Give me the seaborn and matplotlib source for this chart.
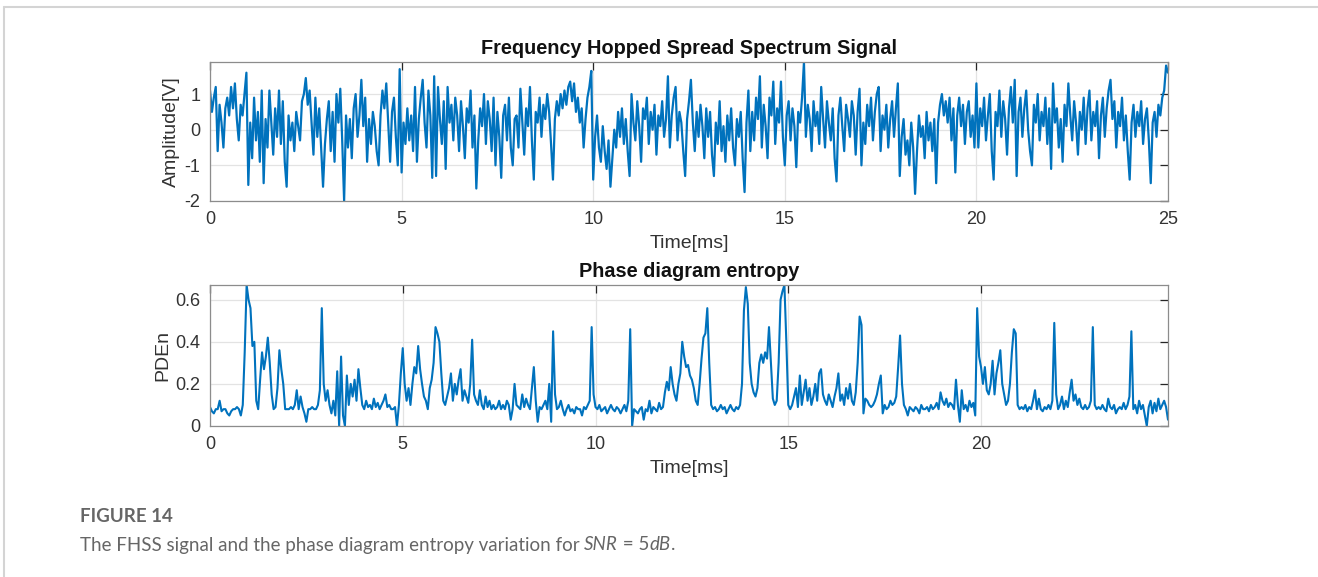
import numpy as np
import pandas as pd
import seaborn as sns
import matplotlib.pyplot as plt
from matplotlib.lines import Line2D

# sample step in ms (both traces)
dt = 0.05

# FHSS signal amplitude [V], one row per millisecond (20 samples each)
amp_rows = [
    [1.1, 0.5, 0.9, 1.2, -0.6, 0.7, 0.2, -0.5, 0.6, 0.9, 0.4, 1.2, 0.6, 1.3, 0.3, -0.3, 0.7, 0.4, 1.0, 1.6],
    [-1.55, 0.2, -0.8, 0.9, -0.3, 0.5, -0.9, 1.1, -1.5, 0.3, -0.5, 1.1, 0.2, -0.7, 0.6, -0.2, 1.1, -0.4, 0.8, -0.9],
    [-1.6, 0.4, -0.3, 0.2, -0.6, 0.5, 0.1, -0.3, 0.8, 1.0, 1.45, 0.7, 1.1, 0.2, -0.7, 0.9, -0.2, 0.6, -0.5, -1.6],
    [-0.4, 0.3, 0.8, -0.6, 0.5, -0.9, 1.0, 0.2, 1.15, -0.3, -2.0, 0.4, -0.5, 0.3, -0.8, 0.6, 1.0, -0.2, 0.4, 1.4],
    [0.1, 0.9, -0.9, 0.3, -0.4, 0.5, 0.1, -0.6, -1.0, 0.4, 1.1, 0.6, 1.3, 0.2, -0.9, 0.5, 0.9, -0.2, -1.0, 1.7],
    [-1.2, 0.2, -0.4, 0.6, -0.3, 0.4, -0.6, 1.2, -0.9, 0.3, 0.9, 1.4, 0.2, -0.5, 1.1, 0.4, -1.35, 1.5, -1.3, 1.2],
    [0.3, -0.4, 0.8, -1.1, 1.2, 0.2, 0.7, -0.3, 0.9, 0.4, -0.6, 0.8, 0.1, -0.8, 0.6, 0.2, 1.1, -0.5, 0.4, -1.65],
    [-0.3, 0.6, 0.1, 1.0, -0.4, 0.8, 0.3, -0.6, 0.9, -1.0, 0.5, -0.2, -1.35, 0.4, 0.7, -0.3, 0.9, -0.5, -1.0, 0.3],
    [0.4, -0.5, 1.15, 0.2, -0.7, 0.6, 0.1, 1.2, -0.3, -1.4, 0.5, 0.2, 0.9, -0.2, 0.7, 0.3, 1.0, 0.5, -0.4, -1.4],
    [0.3, 0.8, 0.4, 1.0, 0.6, 1.1, 0.7, 1.2, 1.35, 0.8, 1.3, 0.5, 0.9, 0.2, 0.6, -0.5, 0.3, 0.9, 1.2, 1.65],
    [-1.4, -0.2, 0.4, -0.5, -0.9, 0.1, -0.6, -1.1, -0.3, -1.6, -0.8, 0.0, -0.5, 0.5, -0.2, 0.6, -0.4, 0.3, -0.6, -1.3],
    [1.0, 0.2, -0.3, 0.8, 0.1, -0.9, 0.6, 0.3, 0.9, -0.4, 0.5, 0.0, 0.7, -0.7, 0.4, 0.1, 0.8, -0.2, 0.3, 1.5],
    [-0.5, 0.4, 0.9, 1.2, -0.3, 0.5, 0.2, -0.6, -1.3, 0.3, 0.8, 1.4, 0.2, -0.6, 0.5, -0.2, 0.7, 0.1, -0.8, 0.6],
    [-0.2, 0.5, -0.7, -1.3, 0.2, -0.4, 0.8, -0.6, 0.1, -0.9, 0.4, -0.3, 0.6, -0.5, -1.0, 0.3, -0.2, 0.5, -0.8, -1.75],
    [0.2, 1.1, -0.6, 0.5, -0.3, 0.9, 0.3, 1.5, -0.5, 0.7, 0.1, -0.8, 0.9, 0.4, 1.35, -0.4, 0.6, 0.2, 1.35, -0.2],
    [-1.0, 0.4, 0.8, -0.3, 0.6, 0.1, -1.05, 0.5, 0.2, 0.9, 1.9, -0.2, 0.7, 0.3, -0.6, 0.8, 0.1, 0.5, -0.4, 1.2],
    [0.3, -0.5, 0.8, 0.2, -0.3, 0.6, -0.8, -1.45, 0.4, 0.9, 0.1, -0.6, 0.7, 0.3, -0.2, 0.8, 0.4, -0.7, 0.5, 1.15],
    [-1.0, 0.2, -0.4, 0.7, 0.1, 0.9, -0.3, 0.5, 1.0, 1.2, -0.6, 0.4, 0.0, 0.7, -0.5, 0.3, 0.8, -0.2, 0.6, 1.3],
    [-1.3, -0.2, 0.3, -0.7, -0.3, -1.0, 0.2, -0.5, -1.8, -0.6, 0.4, -0.2, 0.1, -0.8, 0.5, -0.3, 0.2, -0.6, 0.3, -1.5],
    [0.2, 0.7, 1.0, 0.4, 0.8, 0.2, 0.9, -0.3, 0.6, -1.2, 0.4, 0.9, 0.1, 0.7, -0.4, 0.5, 0.8, -0.2, 0.4, -0.5],
    [1.3, -0.5, 0.6, 0.1, 0.9, -0.3, 0.4, 1.0, -0.6, -1.4, 0.5, 0.1, 1.1, -0.2, 0.8, 0.3, -0.7, 0.6, 1.2, 0.2],
    [1.4, -1.3, 0.5, 0.9, -0.2, 0.6, 1.1, 0.0, -0.6, -1.0, 0.7, 0.2, 1.0, -0.3, 0.5, 0.1, 0.9, -0.4, 0.6, -1.1],
    [1.3, 0.2, 0.6, -0.5, 0.3, -0.9, 0.7, 0.1, 1.3, 0.4, -0.3, 0.8, 0.2, -0.7, 0.5, 0.0, 0.9, -0.4, 0.6, 1.1],
    [-0.3, 0.5, 0.1, 0.8, -0.8, 0.4, 0.9, -0.2, 0.6, 1.1, 1.4, 0.3, 0.8, -0.5, 0.5, 0.1, 0.9, -0.3, 0.4, -0.6],
    [-1.4, 0.2, 0.7, -0.2, 0.5, 0.1, 0.8, -0.4, 0.3, 0.6, -0.3, -1.5, 0.2, 0.5, -0.2, 0.7, 0.4, 0.9, 1.1, 1.8],
    [1.6],
]

# phase diagram entropy, one row per millisecond
pden_rows = [
    [0.09, 0.07, 0.06, 0.08, 0.08, 0.12, 0.07, 0.08, 0.08, 0.06, 0.05, 0.07, 0.08, 0.08, 0.09, 0.08, 0.05, 0.10, 0.35, 0.67],
    [0.60, 0.56, 0.38, 0.40, 0.12, 0.08, 0.22, 0.35, 0.27, 0.33, 0.42, 0.30, 0.15, 0.08, 0.09, 0.18, 0.36, 0.27, 0.20, 0.08],
    [0.08, 0.08, 0.09, 0.08, 0.10, 0.17, 0.08, 0.14, 0.09, 0.06, 0.02, 0.08, 0.08, 0.09, 0.08, 0.08, 0.10, 0.17, 0.56, 0.20],
    [0.12, 0.17, 0.10, 0.06, 0.12, 0.05, 0.26, 0.00, 0.33, 0.05, 0.00, 0.24, 0.10, 0.20, 0.14, 0.22, 0.12, 0.27, 0.18, 0.10],
    [0.08, 0.12, 0.09, 0.10, 0.08, 0.13, 0.09, 0.11, 0.08, 0.10, 0.12, 0.15, 0.09, 0.10, 0.08, 0.08, 0.09, 0.00, 0.10, 0.25],
    [0.37, 0.20, 0.12, 0.18, 0.10, 0.20, 0.28, 0.25, 0.38, 0.27, 0.20, 0.14, 0.12, 0.08, 0.18, 0.22, 0.30, 0.47, 0.44, 0.40],
    [0.25, 0.12, 0.10, 0.14, 0.18, 0.25, 0.12, 0.20, 0.15, 0.22, 0.27, 0.12, 0.17, 0.14, 0.11, 0.20, 0.41, 0.15, 0.12, 0.10],
    [0.17, 0.10, 0.08, 0.14, 0.09, 0.12, 0.08, 0.10, 0.08, 0.09, 0.12, 0.08, 0.10, 0.08, 0.12, 0.10, 0.03, 0.08, 0.20, 0.10],
    [0.09, 0.08, 0.15, 0.09, 0.13, 0.10, 0.08, 0.18, 0.28, 0.12, 0.02, 0.09, 0.08, 0.10, 0.12, 0.08, 0.20, 0.02, 0.45, 0.15],
    [0.08, 0.09, 0.12, 0.08, 0.05, 0.08, 0.10, 0.07, 0.08, 0.06, 0.09, 0.08, 0.08, 0.05, 0.09, 0.08, 0.10, 0.12, 0.47, 0.15],
    [0.09, 0.08, 0.10, 0.07, 0.08, 0.09, 0.06, 0.08, 0.10, 0.08, 0.07, 0.09, 0.08, 0.06, 0.08, 0.10, 0.07, 0.12, 0.46, 0.00],
    [0.08, 0.07, 0.06, 0.08, 0.09, 0.03, 0.08, 0.07, 0.12, 0.06, 0.09, 0.08, 0.07, 0.11, 0.08, 0.09, 0.16, 0.21, 0.17, 0.28],
    [0.20, 0.15, 0.12, 0.20, 0.25, 0.40, 0.33, 0.28, 0.29, 0.24, 0.22, 0.18, 0.12, 0.10, 0.20, 0.32, 0.42, 0.44, 0.56, 0.30],
    [0.10, 0.08, 0.09, 0.07, 0.08, 0.10, 0.08, 0.09, 0.06, 0.08, 0.10, 0.08, 0.07, 0.09, 0.08, 0.10, 0.20, 0.55, 0.66, 0.58],
    [0.30, 0.20, 0.16, 0.14, 0.18, 0.30, 0.34, 0.30, 0.35, 0.32, 0.47, 0.30, 0.13, 0.10, 0.12, 0.30, 0.60, 0.64, 0.67, 0.40],
    [0.10, 0.08, 0.10, 0.14, 0.18, 0.09, 0.24, 0.10, 0.16, 0.22, 0.12, 0.18, 0.10, 0.14, 0.20, 0.12, 0.25, 0.27, 0.15, 0.12],
    [0.10, 0.15, 0.12, 0.09, 0.14, 0.18, 0.25, 0.12, 0.15, 0.10, 0.18, 0.13, 0.20, 0.12, 0.10, 0.16, 0.30, 0.52, 0.48, 0.06],
    [0.13, 0.12, 0.10, 0.09, 0.10, 0.12, 0.15, 0.20, 0.24, 0.06, 0.10, 0.08, 0.09, 0.12, 0.10, 0.11, 0.14, 0.28, 0.43, 0.20],
    [0.10, 0.08, 0.05, 0.09, 0.08, 0.07, 0.09, 0.08, 0.06, 0.10, 0.08, 0.08, 0.09, 0.07, 0.10, 0.08, 0.09, 0.11, 0.08, 0.16],
    [0.12, 0.10, 0.13, 0.09, 0.11, 0.10, 0.08, 0.22, 0.10, 0.02, 0.17, 0.08, 0.10, 0.07, 0.12, 0.09, 0.11, 0.05, 0.56, 0.33],
    [0.28, 0.20, 0.28, 0.17, 0.15, 0.20, 0.31, 0.15, 0.25, 0.30, 0.36, 0.20, 0.15, 0.10, 0.12, 0.20, 0.35, 0.46, 0.44, 0.10],
    [0.08, 0.09, 0.08, 0.10, 0.07, 0.09, 0.08, 0.12, 0.17, 0.08, 0.13, 0.08, 0.07, 0.09, 0.08, 0.10, 0.08, 0.12, 0.49, 0.15],
    [0.08, 0.10, 0.14, 0.08, 0.12, 0.09, 0.16, 0.22, 0.12, 0.15, 0.10, 0.13, 0.09, 0.08, 0.10, 0.08, 0.09, 0.12, 0.47, 0.10],
    [0.08, 0.09, 0.08, 0.10, 0.08, 0.07, 0.13, 0.09, 0.08, 0.10, 0.06, 0.08, 0.09, 0.08, 0.11, 0.08, 0.10, 0.14, 0.45, 0.08],
    [0.10, 0.06, 0.12, 0.08, 0.10, 0.05, 0.00, 0.09, 0.12, 0.06, 0.11, 0.07, 0.13, 0.08, 0.10, 0.12, 0.09, 0.03],
]

amp_yticks = [-2, -1, 0, 1]
amp_xticks = [0, 5, 10, 15, 20, 25]
pden_yticks = [0, 0.2, 0.4, 0.6]
pden_xticks = [0, 5, 10, 15, 20]

amplitude = [v for row in amp_rows for v in row]
pden = [v for row in pden_rows for v in row]
df_amp = pd.DataFrame({'t': np.arange(len(amplitude)) * dt, 'v': amplitude})
df_pden = pd.DataFrame({'t': np.arange(len(pden)) * dt, 'v': pden})

sns.set_style('white')
plt.rcParams['font.family'] = ['Liberation Sans', 'DejaVu Sans']
plt.rcParams['axes.unicode_minus'] = False

blue = '#0072BD'
ink = '#333333'

fig = plt.figure(figsize=(13.18, 5.77), dpi=100)
ax1 = fig.add_axes([210 / 1318, 1 - 201 / 577, 958 / 1318, 139 / 577])
ax2 = fig.add_axes([210 / 1318, 1 - 426 / 577, 958 / 1318, 141 / 577])

sns.lineplot(data=df_amp, x='t', y='v', ax=ax1, color=blue, linewidth=1.6, estimator=None, sort=False)
sns.lineplot(data=df_pden, x='t', y='v', ax=ax2, color=blue, linewidth=1.5, estimator=None, sort=False)

ax1.set_xlim(0, 25)
ax1.set_ylim(-2, 1.9)
ax1.set_xticks(amp_xticks)
ax1.set_yticks(amp_yticks)
ax1.set_ylabel('Amplitude[V]', fontsize=14, color=ink, labelpad=3)
ax1.set_title('Frequency Hopped Spread Spectrum Signal', fontsize=14.3, fontweight='bold', color='#111111', pad=6)

ax2.set_xlim(0, df_pden['t'].iloc[-1])
ax2.set_ylim(0, 0.67)
ax2.set_xticks(pden_xticks)
ax2.set_yticks(pden_yticks)
ax2.set_yticklabels(['0', '0.2', '0.4', '0.6'])
ax2.set_ylabel('PDEn', fontsize=14, color=ink, labelpad=3)
ax2.set_title('Phase diagram entropy', fontsize=14.3, fontweight='bold', color='#111111', pad=6)

for ax in (ax1, ax2):
    ax.set_xlabel('Time[ms]', fontsize=14, color=ink, labelpad=5)
    ax.grid(True, color='#e3e3e3', linewidth=0.9)
    ax.set_axisbelow(True)
    ax.tick_params(direction='in', top=True, right=True, length=6, width=0.9,
                   color='#262626', labelcolor=ink, labelsize=13, pad=7)
    for s in ax.spines.values():
        s.set_color('#8c8c8c')
        s.set_linewidth(0.9)

# card frame
fig.add_artist(Line2D([4 / 1318, 4 / 1318], [0, 1 - 7 / 577], transform=fig.transFigure, color='#d4d4d4', linewidth=1.5))
fig.add_artist(Line2D([4 / 1318, 1], [1 - 7 / 577, 1 - 7 / 577], transform=fig.transFigure, color='#d4d4d4', linewidth=1.5))

# caption
cap_color = '#666666'
fig.text(80 / 1318, 1 - 517 / 577, 'FIGURE 14', fontsize=13.5, fontweight='bold', color=cap_color,
         family=['Lato', 'DejaVu Sans'], va='center')

pieces = [('The FHSS signal and the phase diagram entropy variation for ', 'normal'),
          ('SNR', 'italic'), (' = 5', 'normal'), ('dB', 'italic'), ('.', 'normal')]
renderer = fig.canvas.get_renderer()
x = 80 / 1318
for txt, style in pieces:
    t = fig.text(x, 1 - 545 / 577, txt, fontsize=13.5, style=style, color=cap_color,
                 family=['Lato', 'DejaVu Sans'], va='center')
    bb = t.get_window_extent(renderer=renderer)
    x += bb.width / fig.bbox.width

fig.savefig('out.png', dpi=100)
